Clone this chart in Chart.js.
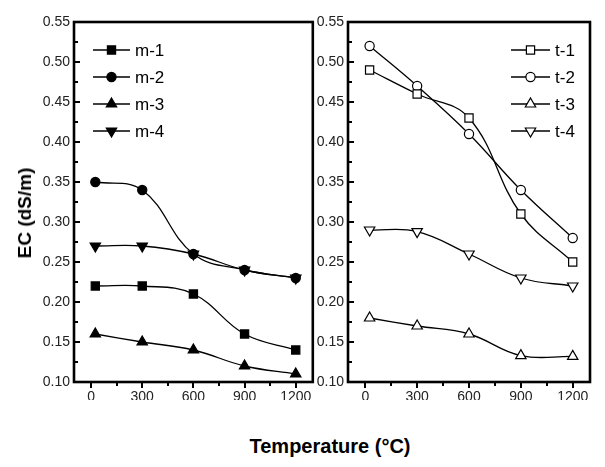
<!DOCTYPE html>
<html>
<head>
<meta charset="utf-8">
<script src="https://cdn.jsdelivr.net/npm/chart.js@4/dist/chart.umd.min.js"></script>
<style>
  body { margin: 0; background: #fff; }
  #wrap { position: relative; width: 605px; height: 467px; font-family: "Liberation Sans", Arial, sans-serif; }
  #leftBox { position: absolute; left: 0; top: 0; width: 320px; height: 400px; }
  #rightBox { position: absolute; left: 316px; top: 0; width: 289px; height: 400px; }
  #yTitle { position: absolute; left: 25px; top: 213px; transform: translate(-50%, -50%) rotate(-90deg);
            font-weight: bold; font-size: 19px; white-space: nowrap; color: #000; }
  #xTitle { position: absolute; left: 330px; top: 446px; transform: translate(-50%, -50%);
            font-weight: bold; font-size: 20px; white-space: nowrap; color: #000; }
</style>
</head>
<body>
<div id="wrap">
  <div id="leftBox"><canvas id="leftChart"></canvas></div>
  <div id="rightBox"><canvas id="rightChart"></canvas></div>
  <div id="yTitle">EC (dS/m)</div>
  <div id="xTitle">Temperature (&deg;C)</div>
</div>
<script>
// temperatures (x) and tick labels
const temps = [25, 300, 600, 900, 1200];
const xTicks = [0, 300, 600, 900, 1200];

// left panel: m series
const m1 = [0.22, 0.22, 0.21, 0.16, 0.14];
const m2 = [0.35, 0.34, 0.26, 0.24, 0.23];
const m3 = [0.16, 0.15, 0.14, 0.12, 0.11];
const m4 = [0.27, 0.27, 0.26, 0.24, 0.23];

// right panel: t series
const t1 = [0.49, 0.46, 0.43, 0.31, 0.25];
const t2 = [0.52, 0.47, 0.41, 0.34, 0.28];
const t3 = [0.18, 0.17, 0.16, 0.133, 0.132];
const t4 = [0.29, 0.288, 0.26, 0.23, 0.22];

const markers = [
  { style: 'rect', r: 5.8, rot: 0 },
  { style: 'circle', r: 4.6, rot: 0 },
  { style: 'triangle', r: 6, rot: 0 },
  { style: 'triangle', r: 6, rot: 180 }
];

function drawMarker(ctx, m, x, y, fill) {
  ctx.save();
  ctx.translate(x, y);
  ctx.rotate(m.rot * Math.PI / 180);
  ctx.beginPath();
  if (m.style === 'rect') {
    const s = Math.SQRT1_2 * m.r;
    ctx.rect(-s, -s, 2 * s, 2 * s);
  } else if (m.style === 'circle') {
    ctx.arc(0, 0, m.r, 0, Math.PI * 2);
  } else {
    for (let i = 0; i < 3; i++) {
      const a = -Math.PI / 2 + i * 2 * Math.PI / 3;
      const px = Math.cos(a) * m.r, py = Math.sin(a) * m.r;
      if (i === 0) ctx.moveTo(px, py); else ctx.lineTo(px, py);
    }
    ctx.closePath();
  }
  ctx.fillStyle = fill;
  ctx.fill();
  ctx.lineWidth = 1.2;
  ctx.strokeStyle = '#000';
  ctx.stroke();
  ctx.restore();
}

// frame, inward y ticks, outward x ticks, and inline legend
const panelPlugin = {
  id: 'panel',
  afterDraw(chart, args, opts) {
    const ctx = chart.ctx;
    const a = chart.chartArea;
    const xs = chart.scales.x, ys = chart.scales.y;
    ctx.save();
    ctx.strokeStyle = '#000';
    ctx.lineWidth = 2;
    for (let v = 0.1; v <= 0.5501; v += 0.025) {
      const py = Math.round(ys.getPixelForValue(v));
      const major = Math.abs(v * 20 - Math.round(v * 20)) < 0.01;
      ctx.beginPath();
      ctx.moveTo(a.left, py);
      ctx.lineTo(a.left + (major ? 6 : 4), py);
      ctx.stroke();
    }
    for (let v = 0; v <= 1200; v += 150) {
      const px = Math.round(xs.getPixelForValue(v));
      const major = v % 300 === 0;
      ctx.beginPath();
      ctx.moveTo(px, a.bottom);
      ctx.lineTo(px, a.bottom + (major ? 6 : 4));
      ctx.stroke();
    }
    ctx.lineWidth = 2.6;
    ctx.strokeRect(a.left, a.top, a.right - a.left, a.bottom - a.top);

    // legend
    ctx.font = '17px "Liberation Sans", Arial, sans-serif';
    ctx.textBaseline = 'middle';
    ctx.fillStyle = '#000';
    chart.data.datasets.forEach((ds, i) => {
      const y = opts.y0 + i * opts.dy;
      ctx.lineWidth = 1.6;
      ctx.beginPath();
      ctx.moveTo(opts.x0, y);
      ctx.lineTo(opts.x0 + opts.len, y);
      ctx.stroke();
      drawMarker(ctx, markers[i], opts.x0 + opts.len / 2, y, opts.fill);
      ctx.fillStyle = '#000';
      ctx.fillText(ds.label, opts.x0 + opts.len + 5, y + 1);
    });
    ctx.restore();
  }
};

function makeDatasets(labels, series, fill) {
  return series.map((vals, i) => ({
    label: labels[i],
    data: temps.map((t, k) => ({ x: t, y: vals[k] })),
    borderColor: '#000',
    borderWidth: 1.3,
    backgroundColor: fill,
    pointStyle: markers[i].style,
    pointRadius: markers[i].r,
    pointRotation: markers[i].rot,
    pointBorderColor: '#000',
    pointBackgroundColor: fill,
    pointBorderWidth: 1.2,
    tension: 0.4,
    fill: false
  }));
}

function makeOptions(yWidth, rightPad, legendPos) {
  return {
    responsive: false,
    animation: false,
    layout: { padding: { left: 0, right: rightPad, top: 22, bottom: 0 } },
    plugins: { legend: { display: false }, tooltip: { enabled: false }, panel: legendPos },
    scales: {
      x: {
        type: 'linear', min: -100, max: 1300,
        afterBuildTicks: s => { s.ticks = xTicks.map(v => ({ value: v })); },
        afterFit: s => { s.height = 18; },
        grid: { display: false, drawTicks: false },
        border: { display: false },
        ticks: { color: '#222', font: { size: 14, family: '"Liberation Sans", Arial' }, padding: 7, maxRotation: 0,
                 callback: v => String(v) }
      },
      y: {
        min: 0.1, max: 0.55,
        afterBuildTicks: s => {
          const t = [];
          for (let i = 0; i <= 9; i++) t.push({ value: +(0.1 + i * 0.05).toFixed(2) });
          s.ticks = t;
        },
        afterFit: s => { s.width = yWidth; },
        grid: { display: false, drawTicks: false },
        border: { display: false },
        ticks: { color: '#222', font: { size: 14, family: '"Liberation Sans", Arial' }, padding: 4,
                 callback: v => v.toFixed(2) }
      }
    }
  };
}

const leftCanvas = document.getElementById('leftChart');
leftCanvas.width = 320; leftCanvas.height = 400;
new Chart(leftCanvas, {
  type: 'line',
  data: { datasets: makeDatasets(['m-1', 'm-2', 'm-3', 'm-4'], [m1, m2, m3, m4], '#000') },
  options: makeOptions(74, 3, { x0: 93, len: 37, y0: 50, dy: 27, fill: '#000' }),
  plugins: [panelPlugin]
});

const rightCanvas = document.getElementById('rightChart');
rightCanvas.width = 289; rightCanvas.height = 400;
new Chart(rightCanvas, {
  type: 'line',
  data: { datasets: makeDatasets(['t-1', 't-2', 't-3', 't-4'], [t1, t2, t3, t4], '#fff') },
  options: makeOptions(32, 15, { x0: 195, len: 39, y0: 50, dy: 27, fill: '#fff' }),
  plugins: [panelPlugin]
});
</script>
</body>
</html>
